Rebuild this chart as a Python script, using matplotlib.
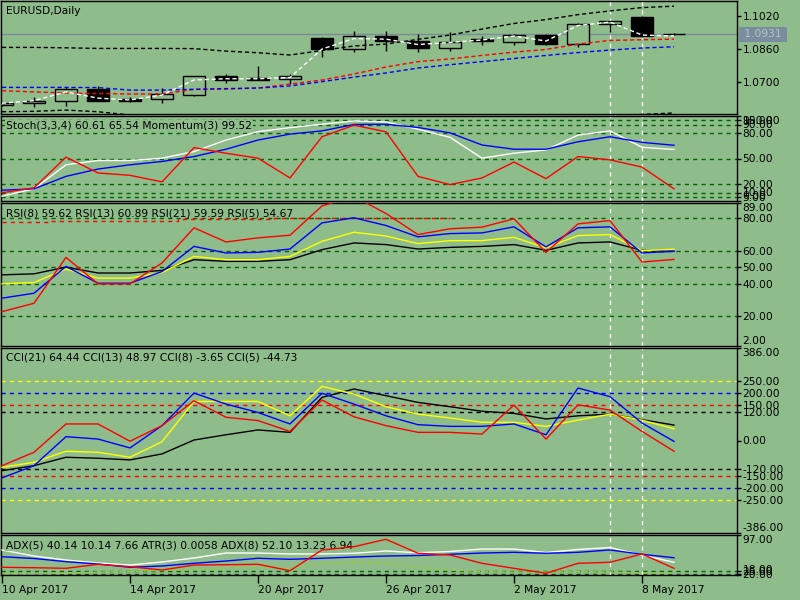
import numpy as np
import pandas as pd
import matplotlib
matplotlib.use("Agg")
import matplotlib.pyplot as plt

# EURUSD daily bars
dates = ['2017-04-10', '2017-04-11', '2017-04-12', '2017-04-13', '2017-04-14', '2017-04-17',
         '2017-04-18', '2017-04-19', '2017-04-20', '2017-04-21', '2017-04-24', '2017-04-25',
         '2017-04-26', '2017-04-27', '2017-04-28', '2017-05-01', '2017-05-02', '2017-05-03',
         '2017-05-04', '2017-05-05', '2017-05-08', '2017-05-09']
opens = [1.0587, 1.0597, 1.0609, 1.0665, 1.0619, 1.0616, 1.0638, 1.0728, 1.0719, 1.0713, 1.0913,
         1.0861, 1.0923, 1.0897, 1.0866, 1.0908, 1.0892, 1.0928, 1.0883, 1.0980, 1.1015, 1.0933]
highs = [1.0600, 1.0627, 1.0674, 1.0681, 1.0629, 1.0670, 1.0729, 1.0739, 1.0778, 1.0739, 1.0916,
         1.0946, 1.0946, 1.0934, 1.0942, 1.0923, 1.0934, 1.0934, 1.0985, 1.0996, 1.1020, 1.0936]
lows = [1.0585, 1.0579, 1.0584, 1.0607, 1.0605, 1.0600, 1.0632, 1.0697, 1.0710, 1.0689, 1.0820,
        1.0847, 1.0852, 1.0847, 1.0852, 1.0879, 1.0879, 1.0879, 1.0871, 1.0944, 1.0920, 1.0927]
closes = [1.0597, 1.0608, 1.0665, 1.0609, 1.0609, 1.0642, 1.0728, 1.0708, 1.0711, 1.0728, 1.0861,
          1.0923, 1.0897, 1.0866, 1.0892, 1.0897, 1.0928, 1.0883, 1.0981, 1.0994, 1.0922, 1.0931]

# overlays on the price window
bb_upper = [1.0868, 1.0868, 1.0866, 1.0863, 1.0863, 1.0863, 1.0862, 1.0850, 1.0842, 1.0831, 1.0853,
            1.0875, 1.0884, 1.0907, 1.0928, 1.0957, 1.0984, 1.1003, 1.1027, 1.1045, 1.1061, 1.1068]
bb_lower = [1.0556, 1.0558, 1.0564, 1.0556, 1.0540, 1.0528, 1.0512, 1.0500, 1.0492, 1.0488, 1.0480,
            1.0478, 1.0480, 1.0485, 1.0492, 1.0500, 1.0508, 1.0516, 1.0525, 1.0535, 1.0543, 1.0550]
ma_red = [1.0658, 1.0652, 1.0647, 1.0644, 1.0642, 1.0642, 1.0664, 1.0666, 1.0671, 1.0690, 1.0710,
          1.0739, 1.0773, 1.0799, 1.0812, 1.0829, 1.0845, 1.0858, 1.0884, 1.0902, 1.0905, 1.0908]
ma_blue = [1.0674, 1.0674, 1.0674, 1.0673, 1.0661, 1.0661, 1.0665, 1.0668, 1.0671, 1.0681, 1.0702,
           1.0724, 1.0744, 1.0768, 1.0784, 1.0799, 1.0814, 1.0829, 1.0843, 1.0855, 1.0865, 1.0871]
ma_white = [1.0597, 1.0610, 1.0652, 1.0622, 1.0613, 1.0637, 1.0710, 1.0716, 1.0716, 1.0722, 1.0860,
            1.0911, 1.0908, 1.0882, 1.0892, 1.0904, 1.0923, 1.0899, 1.0974, 1.0991, 1.0928, 1.0923]

# Stoch(3,3,4) + Momentum(3)
stoch_main = [5.7, 14.3, 42.6, 47.6, 47.6, 50.4, 58.1, 71.7, 81.6, 86.3, 90.3, 94.2, 93.0, 84.5,
              74.9, 50.4, 56.2, 60.1, 77.5, 82.5, 63.2, 60.61]
stoch_signal = [12.7, 14.3, 29.0, 37.6, 42.6, 46.5, 52.3, 60.9, 71.7, 78.7, 82.5, 90.0, 90.3, 86.5,
                80.2, 65.9, 60.9, 60.9, 69.7, 75.6, 69.0, 65.54]
momentum = [9.7, 15.5, 51.6, 33.0, 30.2, 22.5, 62.8, 56.2, 50.4, 27.1, 75.6, 89.2, 81.4, 29.0,
            19.3, 27.1, 45.8, 26.3, 52.3, 48.4, 39.9, 14.3]

# RSI
rsi8 = [31.1, 34.1, 50.4, 40.2, 40.2, 47.3, 62.6, 58.6, 59.0, 61.0, 76.9, 80.0, 75.3, 68.4, 70.4,
        70.8, 74.5, 62.3, 73.9, 74.5, 58.6, 59.62]
rsi13 = [39.8, 40.6, 48.8, 43.3, 43.3, 46.7, 56.5, 54.5, 54.5, 56.5, 65.7, 71.2, 68.9, 64.3, 66.1,
         66.1, 68.1, 61.7, 69.2, 69.8, 60.0, 60.89]
rsi21 = [45.3, 45.9, 50.0, 46.4, 46.4, 48.0, 54.5, 53.5, 53.5, 54.5, 60.6, 64.7, 63.7, 61.0, 62.0,
         62.6, 63.7, 60.2, 64.7, 65.3, 60.2, 59.59]
rsi5 = [22.9, 28.0, 55.9, 39.8, 39.8, 52.5, 73.9, 65.3, 67.8, 69.4, 87.2, 93.0, 82.6, 69.8, 73.3,
        74.3, 79.4, 59.0, 76.3, 78.3, 53.1, 54.67]
rsi_band = [77.3, 77.3, 78.3, 78.3, 78.3, 78.3, 79.0, 79.0, 79.0, 79.6, 80.0, 80.0, 80.0, 80.0, 80.0]

# CCI
cci21 = [-126, -105, -70, -74, -81, -56, 2, 24, 44, 34, 180, 215, 187, 159, 141, 122, 113, 90,
         103, 110, 87, 64.44]
cci13 = [-112, -91, -45, -49, -70, -5, 163, 163, 163, 103, 226, 194, 141, 110, 94, 76, 76, 59,
         85, 110, 85, 48.97]
cci8 = [-156, -105, 16, 6, -31, 62, 198, 152, 117, 69, 197, 152, 103, 66, 59, 59, 69, 24, 219,
        183, 73, -3.65]
cci5 = [-105, -49, 69, 69, -3, 62, 166, 97, 83, 38, 169, 99, 62, 34, 34, 27, 148, 6, 149, 127,
        38, -44.73]

# ADX / ATR window
adx_white = [67.4, 55.5, 47.6, 41.7, 37.7, 43.7, 51.6, 61.4, 61.4, 59.5, 59.5, 60.9, 65.4, 62.0,
             64.4, 69.3, 69.3, 62.4, 68.4, 72.3, 57.5, 43.1]
adx_blue = [54.1, 50.6, 44.3, 39.7, 33.2, 35.8, 41.1, 45.6, 51.0, 49.0, 51.0, 53.5, 55.5, 56.5,
            58.9, 61.4, 62.8, 60.9, 62.8, 67.4, 58.9, 52.1]
adx_red = [33.2, 32.4, 31.2, 39.1, 34.4, 27.9, 37.7, 38.3, 39.1, 26.5, 67.4, 73.9, 88.5, 60.9,
           57.5, 41.1, 31.2, 21.4, 41.1, 43.1, 59.5, 31.2]
adx_green = [20, 20, 21.4, 23.9, 24.9, 26.9, 28.9, 31.8, 34.4, 31.2, 41.1, 43.1, 41.1, 33.2,
             27.9, 24.5, 23.9, 23.9, 24.5, 23.9, 22.5, 21.4]

marked_bars = [19, 20]

BG = '#8fbc8b'
LEVEL = '#006400'
DOT = (0, (3, 3))
FS = 7.7
plt.rcParams['font.family'] = 'DejaVu Sans'
plt.rcParams['font.size'] = FS

fig = plt.figure(figsize=(8, 6), dpi=100, facecolor=BG)
L, R = 1, 737


def panel(top, bottom):
    ax = fig.add_axes([L / 800, 1 - bottom / 600, (R - L) / 800, (bottom - top) / 600])
    ax.set_facecolor(BG)
    ax.set_xlim((L - 2) / 32, (R - 2) / 32)
    for s in ax.spines.values():
        s.set_color('black')
        s.set_linewidth(1)
    ax.tick_params(axis='y', left=False, labelleft=False, right=True, labelright=True,
                   direction='out', length=3, width=1, pad=1, labelsize=FS)
    ax.tick_params(axis='x', bottom=False, labelbottom=False)
    for b in marked_bars:
        ax.axvline(b, color='white', lw=1, ls=DOT, zorder=1.5)
    return ax


def set_ticks(ax, vals, edge=True):
    ax.set_yticks(vals)
    ax.set_yticklabels(['%.2f' % v for v in vals])
    if edge:
        lbls = ax.get_yticklabels()
        lbls[0].set_va('bottom')
        lbls[-1].set_va('top')


def title(ax, txt, box=False):
    kw = dict(xy=(0, 1), xycoords='axes fraction', xytext=(5, -5), textcoords='offset pixels',
              ha='left', va='top', fontsize=FS, zorder=5)
    if box:
        kw['bbox'] = dict(facecolor=BG, edgecolor='none', pad=0.6)
    ax.annotate(txt, **kw)


x = np.arange(len(dates))
o = np.array(opens)
c = np.array(closes)

# price window
ax0 = panel(1, 114)
ax0.set_ylim(1.0545, 1.1093)
ax0.axhline(closes[-1], color='#7b8b9b', lw=1, zorder=1)
up = c >= o
ax0.vlines(x, lows, highs, color='black', lw=1, zorder=2)
ax0.bar(x, np.maximum(np.abs(c - o), 0.00012), bottom=np.minimum(o, c), width=0.7,
        color=np.where(up, BG, 'black'), edgecolor='black', linewidth=1, zorder=3)
ax0.plot(x, bb_upper, color='black', lw=1, ls=(0, (3, 2)), zorder=4)
ax0.plot(x, bb_lower, color='black', lw=1, ls=(0, (3, 2)), zorder=4)
ax0.plot(x, ma_red, color='red', lw=1, ls=(0, (3, 2)), zorder=4)
ax0.plot(x, ma_blue, color='blue', lw=1, ls=(0, (3, 2)), zorder=4)
ax0.plot(x, ma_white, color='white', lw=1, ls=(0, (3, 2)), zorder=4)
ax0.set_yticks([1.0700, 1.0860, 1.1020])
ax0.set_yticklabels(['1.0700', '1.0860', '1.1020'])
ax0.annotate(' %.4f ' % closes[-1], xy=(1, closes[-1]), xycoords=('axes fraction', 'data'),
             xytext=(4, 0), textcoords='offset pixels', ha='left', va='center', fontsize=FS,
             color='#b4c8b4', bbox=dict(boxstyle='square,pad=0.2', facecolor='#7a8ca0',
                                        edgecolor='none'))
title(ax0, 'EURUSD,Daily')

# stochastic
ax1 = panel(116, 201)
ax1.set_ylim(0, 100)
for lv in [95, 90, 80, 50, 20, 10, 5]:
    ax1.axhline(lv, color=LEVEL, lw=1, ls=DOT, zorder=1)
ax1.plot(x, stoch_main, color='white', lw=1, zorder=3)
ax1.plot(x, stoch_signal, color='blue', lw=1, zorder=3)
ax1.plot(x, momentum, color='red', lw=1, zorder=3)
set_ticks(ax1, [0, 5, 10, 20, 50, 80, 90, 95, 100])
title(ax1, 'Stoch(3,3,4) 60.61 65.54 Momentum(3) 99.52', box=True)

# RSI
ax2 = panel(203, 346)
ax2.set_ylim(2, 89)
for lv in [20, 40, 50, 60, 80]:
    ax2.axhline(lv, color=LEVEL, lw=1, ls=DOT, zorder=1)
ax2.plot(x[:len(rsi_band)], rsi_band, color='red', lw=1, ls=DOT, drawstyle='steps-mid', zorder=2)
ax2.plot(x, rsi21, color='black', lw=1, zorder=3)
ax2.plot(x, rsi13, color='yellow', lw=1, zorder=3)
ax2.plot(x, rsi8, color='blue', lw=1, zorder=3)
ax2.plot(x, rsi5, color='red', lw=1, zorder=3)
set_ticks(ax2, [2, 20, 40, 50, 60, 80, 89])
title(ax2, 'RSI(8) 59.62 RSI(13) 60.89 RSI(21) 59.59 RSI(5) 54.67')

# CCI
ax3 = panel(348, 533)
ax3.set_ylim(-386, 386)
for lv, col in [(250, 'yellow'), (200, 'blue'), (150, 'red'), (120, 'black')]:
    ax3.axhline(lv, color=col, lw=1, ls=DOT, zorder=1)
    ax3.axhline(-lv, color=col, lw=1, ls=DOT, zorder=1)
ax3.plot(x, cci21, color='black', lw=1, zorder=3)
ax3.plot(x, cci13, color='yellow', lw=1, zorder=3)
ax3.plot(x, cci8, color='blue', lw=1, zorder=3)
ax3.plot(x, cci5, color='red', lw=1, zorder=3)
set_ticks(ax3, [-386, -250, -200, -150, -120, 0, 120, 150, 200, 250, 386])
title(ax3, 'CCI(21) 64.44 CCI(13) 48.97 CCI(8) -3.65 CCI(5) -44.73')

# ADX / ATR
ax4 = panel(535, 575)
ax4.set_ylim(18, 97)
for lv in [20, 25]:
    ax4.axhline(lv, color=LEVEL, lw=1, ls=DOT, zorder=1)
ax4.plot(x, adx_green, color='#9acd32', lw=1, ls=DOT, zorder=2)
ax4.plot(x, adx_white, color='white', lw=1, zorder=3)
ax4.plot(x, adx_blue, color='blue', lw=1, zorder=3)
ax4.plot(x, adx_red, color='red', lw=1, zorder=6)
set_ticks(ax4, [18, 20, 25, 97])
title(ax4, 'ADX(5) 40.14 10.14 7.66 ATR(3) 0.0058 ADX(8) 52.10 13.23 6.94', box=True)

dt = pd.to_datetime(dates)
tick_idx = list(range(0, len(dates), 4))
ax4.set_xticks(tick_idx)
ax4.set_xticklabels([f'{dt[i].day} {dt[i]:%b %Y}' for i in tick_idx])
ax4.tick_params(axis='x', bottom=True, labelbottom=True, direction='out', length=6, width=1,
                pad=1, labelsize=FS)
for lbl in ax4.get_xticklabels():
    lbl.set_ha('left')

fig.savefig('out.png', dpi=100, facecolor=BG)
